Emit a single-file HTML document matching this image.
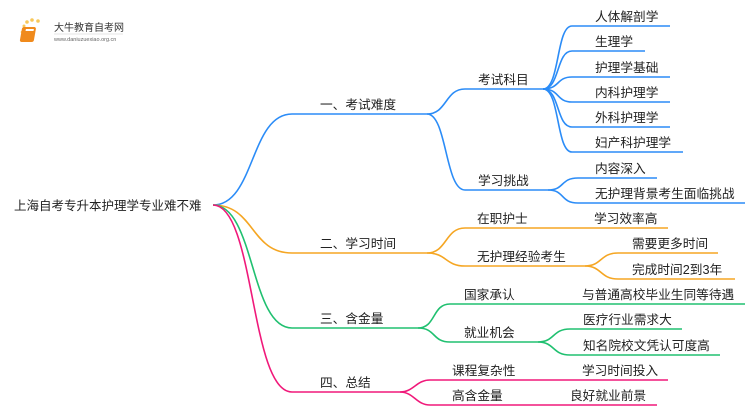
<!DOCTYPE html>
<html><head><meta charset="utf-8"><style>
html,body{margin:0;padding:0;background:#fff;width:750px;height:410px;overflow:hidden}
svg text{font-family:"Liberation Sans","Noto Sans CJK SC",sans-serif;fill:#222}
</style></head><body>
<svg width="750" height="410" viewBox="0 0 750 410" xmlns="http://www.w3.org/2000/svg">
<g fill="none" stroke-width="1.6">
<g stroke="#2b8cf7">
<path d="M213,205 C255,205 250,114 292,114 L427,114"/>
<path d="M427,114 C447,114 445,89 465,89 L543,89"/>
<path d="M427,114 C447,114 445,190 465,190 L548,190"/>
<path d="M543,89 C560,89 556,26 572,26 L670,26"/>
<path d="M543,89 C560,89 556,51 572,51 L645,51"/>
<path d="M543,89 C560,89 556,77 572,77 L670,77"/>
<path d="M543,89 C560,89 556,102 572,102 L670,102"/>
<path d="M543,89 C560,89 556,127 572,127 L670,127"/>
<path d="M543,89 C560,89 556,152 572,152 L683,152"/>
<path d="M548,190 C565,190 560,178 578,178 L657,178"/>
<path d="M548,190 C565,190 560,203 578,203 L745,203"/>
</g>
<g stroke="#f5a623">
<path d="M213,205 C255,205 250,253 292,253 L427,253"/>
<path d="M427,253 C447,253 445,228 465,228 L668,228"/>
<path d="M427,253 C447,253 445,266 465,266 L585,266"/>
<path d="M585,266 C602,266 600,253 618,253 L718,253"/>
<path d="M585,266 C602,266 600,279 618,279 L735,279"/>
</g>
<g stroke="#20c070">
<path d="M213,205 C255,205 250,328 292,328 L418,328"/>
<path d="M418,328 C436,328 432,304 450,304 L745,304"/>
<path d="M418,328 C436,328 432,342 450,342 L538,342"/>
<path d="M538,342 C555,342 552,329 570,329 L682,329"/>
<path d="M538,342 C555,342 552,355 570,355 L720,355"/>
</g>
<g stroke="#f0197a">
<path d="M213,205 C255,205 250,392 292,392 L400,392"/>
<path d="M400,392 C414,392 416,380 430,380 L668,380"/>
<path d="M400,392 C414,392 416,405 430,405 L657,405"/>
</g>
</g>
<g font-size="12.7">
<text x="14" y="210" font-size="12.5">上海自考专升本护理学专业难不难</text>
<text x="320" y="109">一、考试难度</text>
<text x="478" y="84">考试科目</text>
<text x="478" y="185">学习挑战</text>
<text x="595" y="21">人体解剖学</text>
<text x="595" y="46">生理学</text>
<text x="595" y="72">护理学基础</text>
<text x="595" y="97">内科护理学</text>
<text x="595" y="122">外科护理学</text>
<text x="595" y="147">妇产科护理学</text>
<text x="595" y="173">内容深入</text>
<text x="595" y="198">无护理背景考生面临挑战</text>
<text x="320" y="248">二、学习时间</text>
<text x="477" y="223">在职护士</text>
<text x="594" y="223">学习效率高</text>
<text x="477" y="261">无护理经验考生</text>
<text x="632" y="248">需要更多时间</text>
<text x="632" y="274">完成时间2到3年</text>
<text x="320" y="323">三、含金量</text>
<text x="464" y="299">国家承认</text>
<text x="582" y="299">与普通高校毕业生同等待遇</text>
<text x="464" y="337">就业机会</text>
<text x="583" y="324">医疗行业需求大</text>
<text x="583" y="350">知名院校文凭认可度高</text>
<text x="320" y="387">四、总结</text>
<text x="452" y="375">课程复杂性</text>
<text x="582" y="375">学习时间投入</text>
<text x="452" y="400">高含金量</text>
<text x="570" y="400">良好就业前景</text>
</g>
<g>
<circle cx="24" cy="26" r="1.5" fill="#f8c85a"/><circle cx="27" cy="22" r="1.8" fill="#f8c85a"/>
<circle cx="32" cy="20" r="1.8" fill="#f8c85a"/><circle cx="38" cy="21" r="1.8" fill="#f8c85a"/>
<circle cx="22" cy="32" r="1.3" fill="#f8c85a"/><circle cx="23" cy="38" r="1.2" fill="#f8c85a"/>
<rect x="27" y="27" width="14" height="15" rx="2" fill="#f08a1c" transform="skewX(-10)"/>
<rect x="31" y="29" width="8" height="2" fill="#fff" transform="skewX(-10)"/>
<text x="54" y="31" font-size="10" style="fill:#333">大牛教育自考网</text>
<line x1="54" y1="34" x2="123" y2="34" stroke="#ccc" stroke-width="0.6"/>
<text x="54" y="41" font-size="5.5" style="fill:#666">www.daniuzuexiao.org.cn</text>
</g>
</svg>
</body></html>
